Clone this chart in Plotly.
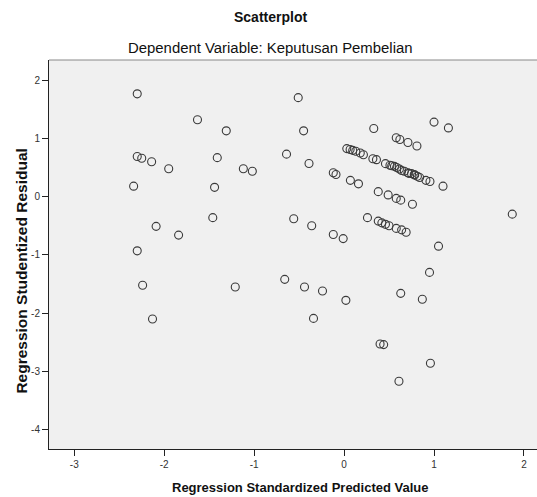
import plotly.graph_objects as go

predicted = [
    -2.30, -1.63, -1.31, -2.30, -2.25, -2.14, -1.95, -1.41, -1.12, -1.02,
    -0.64, -0.51, -2.34, -1.44, -1.46, -0.56, -2.09, -1.84, -2.30, -2.24,
    -2.13, -1.21, -0.66, -0.44, -0.24, 0.02, 0.63, 0.87, -0.34, 0.40,
    0.44, 0.96, 0.61, 1.05, 0.95, -0.12, -0.01, 1.87, 1.00, 1.16,
    -0.45, 0.33, 0.58, 0.62, 0.71, 0.81, -0.39,
    0.03, 0.067, 0.096, 0.13, 0.18, 0.215, 0.32, 0.36,
    0.46, 0.51, 0.53, 0.56, 0.585, 0.615, 0.64, 0.67, 0.71, 0.72, 0.75, 0.78, 0.785,
    0.815, 0.84, 0.91, 0.955, 1.10,
    -0.12, -0.09, 0.07, 0.16, 0.38, 0.49, 0.58, 0.63, 0.76,
    -0.36, 0.26, 0.38, 0.42, 0.46, 0.50, 0.58, 0.64, 0.69,
]
residual = [
    1.765, 1.32, 1.13, 0.69, 0.66, 0.60, 0.48, 0.67, 0.48, 0.435,
    0.73, 1.70, 0.18, 0.16, -0.36, -0.38, -0.51, -0.66, -0.93, -1.52,
    -2.10, -1.55, -1.42, -1.55, -1.62, -1.78, -1.66, -1.76, -2.09, -2.53,
    -2.54, -2.86, -3.17, -0.85, -1.30, -0.65, -0.72, -0.30, 1.28, 1.18,
    1.13, 1.17, 1.01, 0.98, 0.93, 0.87, 0.57,
    0.825, 0.81, 0.795, 0.78, 0.75, 0.72, 0.65, 0.635,
    0.567, 0.54, 0.53, 0.52, 0.50, 0.475, 0.45, 0.435, 0.41, 0.40, 0.395, 0.38, 0.37,
    0.35, 0.33, 0.28, 0.26, 0.18,
    0.41, 0.38, 0.28, 0.22, 0.086, 0.03, -0.03, -0.06, -0.13,
    -0.50, -0.36, -0.42, -0.45, -0.475, -0.50, -0.545, -0.57, -0.61,
]

x_ticks = [-3, -2, -1, 0, 1, 2]
y_ticks = [2, 1, 0, -1, -2, -3, -4]

FONT = "Liberation Sans, Arial, sans-serif"

fig = go.Figure(go.Scatter(
    x=predicted, y=residual, mode="markers",
    marker=dict(symbol="circle-open", size=8, color="#3a3a3a", line=dict(width=1.1)),
    hoverinfo="skip",
))

fig.update_layout(
    width=537, height=497,
    margin=dict(l=49, r=0, t=60, b=48),
    paper_bgcolor="white",
    plot_bgcolor="#f0f0f0",
    showlegend=False,
    font=dict(family=FONT, color="#222"),
    xaxis=dict(
        range=[-3.281, 2.145], tickvals=x_ticks, ticktext=[str(v) for v in x_ticks],
        showgrid=False, zeroline=False, showline=True, linecolor="#222", linewidth=1,
        ticks="outside", ticklen=6, tickcolor="#222", tickfont=dict(size=10, color="#333"),
    ),
    yaxis=dict(
        range=[-4.332, 2.346], tickvals=y_ticks, ticktext=[str(v) for v in y_ticks],
        showgrid=False, zeroline=False, showline=True, linecolor="#222", linewidth=1,
        ticks="outside", ticklen=6, tickcolor="#222", tickfont=dict(size=10, color="#333"),
    ),
    shapes=[dict(type="line", xref="paper", yref="paper", x0=0, x1=1, y0=1, y1=1,
                 line=dict(color="#888", width=1))],
    annotations=[
        dict(text="<b>Scatterplot</b>", xref="paper", yref="paper", x=0.454, y=1,
             yshift=43, yanchor="middle", xanchor="center", showarrow=False,
             font=dict(size=14, family=FONT, color="#111")),
        dict(text="Dependent Variable: Keputusan Pembelian", xref="paper", yref="paper",
             x=0.454, y=1, yshift=12, yanchor="middle", xanchor="center", showarrow=False,
             font=dict(size=14.9, family=FONT, color="#111")),
        dict(text="<b>Regression Standardized Predicted Value</b>", xref="paper", yref="paper",
             x=0.515, y=0, yshift=-38, yanchor="middle", xanchor="center", showarrow=False,
             font=dict(size=13, family=FONT, color="#111")),
        dict(text="<b>Regression Studentized Residual</b>", xref="paper", yref="paper",
             x=0, xshift=-27, y=0.456, yanchor="middle", xanchor="center", textangle=-90,
             showarrow=False, font=dict(size=15.5, family=FONT, color="#111")),
    ],
)

fig.write_html("out.html", config={"displayModeBar": False},
               post_script="document.body.style.margin='0';document.body.style.padding='0';")
